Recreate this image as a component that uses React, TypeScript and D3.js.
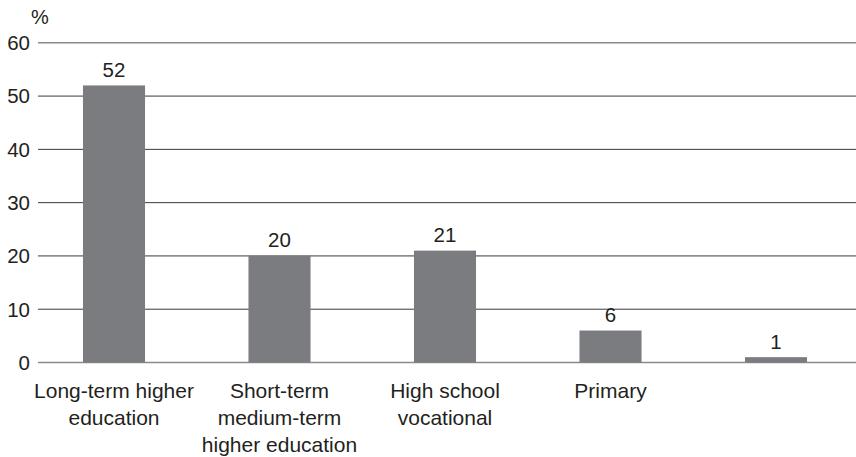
import React from "react";
import * as d3 from "d3";

const categories: string[][] = [
  ["Long-term higher", "education"],
  ["Short-term", "medium-term", "higher education"],
  ["High school", "vocational"],
  ["Primary"],
  [""],
];
const values: number[] = [52, 20, 21, 6, 1];
const yTicks: number[] = [0, 10, 20, 30, 40, 50, 60];
const unitLabel = "%";

const W = 856;
const H = 457;

export default function App() {
  const x = d3
    .scaleBand<number>()
    .domain(values.map((_, i) => i))
    .range([31.25, 858.75])
    .paddingInner(0.625)
    .paddingOuter(0.3125);
  const y = d3.scaleLinear().domain([0, 60]).range([362.5, 42.8]);
  const font = "'Liberation Sans', Arial, Helvetica, sans-serif";
  const textColor = "#231f20";
  return (
    <svg
      width={W}
      height={H}
      style={{ position: "absolute", left: 0, top: 0, background: "#fff" }}
      fontFamily={font}
    >
      <text x={31} y={24} fontSize={20} fill={textColor}>
        {unitLabel}
      </text>
      {yTicks.map((t) => (
        <g key={t}>
          <line
            x1={38}
            x2={W}
            y1={y(t)}
            y2={y(t)}
            stroke={t === 0 || t === 60 ? "#8a8a8a" : "#3a3a3a"}
            strokeWidth={t === 0 || t === 60 ? 1.6 : 1}
          />
          <text
            x={30}
            y={y(t)}
            dy="0.36em"
            textAnchor="end"
            fontSize={20.5}
            fill={textColor}
          >
            {t}
          </text>
        </g>
      ))}
      {values.map((v, i) => (
        <g key={i}>
          <rect
            x={x(i)!}
            y={y(v)}
            width={x.bandwidth()}
            height={y(0) - y(v)}
            fill="#7b7c80"
          />
          <text
            x={x(i)! + x.bandwidth() / 2}
            y={y(v) - 8.5}
            textAnchor="middle"
            fontSize={20.5}
            fill={textColor}
          >
            {v}
          </text>
          {categories[i].map((line, j) => (
            <text
              key={j}
              x={x(i)! + x.bandwidth() / 2}
              y={397.5 + j * 27}
              textAnchor="middle"
              fontSize={21}
              fill={textColor}
            >
              {line}
            </text>
          ))}
        </g>
      ))}
    </svg>
  );
}
